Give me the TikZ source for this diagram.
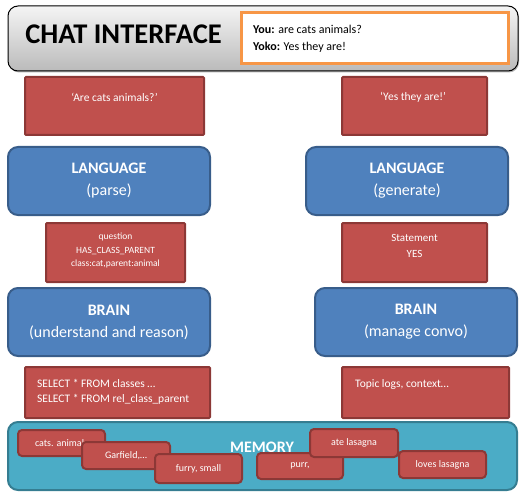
\documentclass[tikz,border=0pt]{standalone}
\usepackage{fontspec}
\setmainfont{Carlito}
\usepackage{xcolor}
\definecolor{cellRed}{HTML}{C0504D}
\definecolor{cellRedEdge}{HTML}{8C3836}
\definecolor{unitBlue}{HTML}{4F81BD}
\definecolor{unitBlueEdge}{HTML}{385D8A}
\definecolor{memTeal}{HTML}{4BACC6}
\definecolor{memTealEdge}{HTML}{357D91}
\definecolor{chatOrange}{HTML}{F79646}
\usepackage{tikz}
\usetikzlibrary{positioning,shadows}

\begin{document}
\begin{tikzpicture}[x=1pt,y=-1pt,
    msgbox/.style={draw=cellRedEdge, fill=cellRed, line width=2pt, rounded corners=1pt, inner sep=0pt},
    msgtext/.style={text=white, inner sep=0pt, font=\fontsize{11.5}{15}\selectfont},
    unitbox/.style={draw=unitBlueEdge, fill=unitBlue, line width=2pt, rounded corners=10pt, inner sep=0pt,
      minimum width=202pt, minimum height=68pt, text=white, align=center, font=\fontsize{16}{22}\selectfont},
    factbox/.style={draw=cellRedEdge, fill=cellRed, line width=2pt, rounded corners=4pt, inner sep=0pt,
      text=white, font=\fontsize{10}{12}\selectfont}]
  \useasboundingbox (0,0) rectangle (525,500);
  % ---- chat interface ----
  \node[draw=black, line width=1pt, rounded corners=10pt, top color=black!4, bottom color=black!27,
    drop shadow={shadow xshift=1pt, shadow yshift=-1.5pt, opacity=0.6},
    minimum width=510pt, minimum height=65pt, inner sep=0pt] (chat) at (263,38.5) {};
  \node[font=\fontsize{28.5}{30}\selectfont\bfseries, inner sep=0pt] (chattitle) at (123.5,34) {CHAT INTERFACE};
  \node[draw=chatOrange, fill=white, line width=3pt, minimum width=267pt, minimum height=51pt, inner sep=0pt]
    (dialog) at (374.5,38.5) {};
  \node[anchor=west, align=left, inner sep=0pt, font=\fontsize{12}{17}\selectfont] (dialogtext) at (253,38.5)
    {\textbf{You:} are cats animals?\\ \textbf{Yoko:} Yes they are!};
  % ---- left column: understanding ----
  \node[msgbox, minimum width=179pt, minimum height=58pt] (askbox) at (114.5,106) {};
  \node[msgtext] (asktext) at (114.5,97) {`Are cats animals?'};
  \node[unitbox] (parse) at (109,181) {\textbf{LANGUAGE}\\(parse)};
  \node[msgbox, minimum width=139pt, minimum height=59pt] (querybox) at (115.5,252.5) {};
  \node[msgtext, align=center, font=\fontsize{9.5}{13.5}\selectfont] (querytext) at (115.5,250.5)
    {question\\HAS\_CLASS\_PARENT\\class:cat,parent:animal};
  \node[unitbox] (reason) at (109,322) {\textbf{BRAIN}\\(understand and reason)};
  \node[msgbox, minimum width=185pt, minimum height=51pt] (sqlbox) at (117.5,392.5) {};
  \node[msgtext, anchor=west, align=left] (sqltext) at (37,391.5)
    {SELECT * FROM classes \ldots\\SELECT * FROM rel\_class\_parent};
  % ---- right column: answering ----
  \node[msgbox, minimum width=145pt, minimum height=58pt] (replybox) at (414.5,106) {};
  \node[msgtext] (replytext) at (413,97) {`Yes they are!'};
  \node[unitbox] (generate) at (407,181) {\textbf{LANGUAGE}\\(generate)};
  \node[msgbox, minimum width=145pt, minimum height=59pt] (answerbox) at (414.5,252.5) {};
  \node[msgtext, align=center, font=\fontsize{11}{16}\selectfont] (answertext) at (414.5,246)
    {Statement\\YES};
  \node[unitbox] (convo) at (416,322) {\textbf{BRAIN}\\(manage convo)};
  \node[msgbox, minimum width=167pt, minimum height=51pt] (topicbox) at (425.5,392.5) {};
  \node[msgtext, anchor=west] (topictext) at (355,384) {Topic logs, context\ldots};
  % ---- memory ----
  \node[draw=memTealEdge, fill=memTeal, line width=2pt, rounded corners=10pt,
    minimum width=509pt, minimum height=68pt, inner sep=0pt] (memory) at (262.5,456) {};
  \node[text=white, inner sep=0pt, font=\fontsize{16}{18}\selectfont\bfseries] (memtitle) at (262,447) {MEMORY};
  \foreach \nm/\cx/\cy/\w/\h/\txt in {cats/61.5/443/87/26/{cats. animals},
      garfield/126/455.5/88/27/{Garfield,\ldots},
      furry/198.5/468.5/87/29/{furry, small},
      purr/300/466/86/26/{purr,},
      ate/354/443/88/28/{ate lasagna},
      loves/442.5/464.5/87/27/{loves lasagna}}
    \node[factbox, minimum width=\w pt, minimum height=\h pt] (fact-\nm) at (\cx,\cy) {\txt};
\end{tikzpicture}
\end{document}
